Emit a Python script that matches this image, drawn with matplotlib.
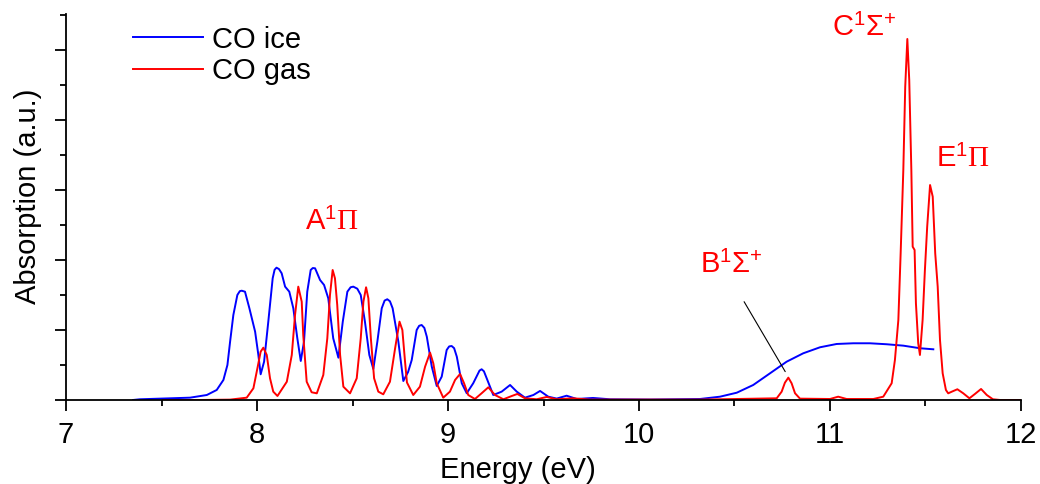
import numpy as np
import matplotlib.pyplot as plt
from matplotlib.ticker import MultipleLocator, NullFormatter

plt.rcParams['font.family'] = ['Liberation Sans', 'DejaVu Sans']
plt.rcParams['mathtext.fontset'] = 'custom'
plt.rcParams['mathtext.rm'] = 'Liberation Serif'
plt.rcParams['mathtext.sf'] = 'Liberation Sans'
plt.rcParams['mathtext.it'] = 'Liberation Serif:italic'

# CO ice spectrum (energy in eV, absorption in a.u.)
ice_e = [7.351, 7.387, 7.649, 7.737, 7.789, 7.824, 7.845, 7.859, 7.876, 7.897,
         7.910, 7.920, 7.937, 7.960, 7.990, 8.007, 8.019, 8.037, 8.059, 8.082, 8.092, 8.102,
         8.115, 8.129, 8.147, 8.169, 8.190, 8.211, 8.229, 8.246, 8.263, 8.281, 8.292, 8.304,
         8.330, 8.351, 8.373, 8.399, 8.426, 8.449, 8.473, 8.490, 8.504, 8.525, 8.543, 8.565,
         8.588, 8.609, 8.630, 8.653, 8.668, 8.682, 8.696, 8.710, 8.740, 8.766, 8.791, 8.810,
         8.836, 8.849, 8.862, 8.876, 8.889, 8.915, 8.941, 8.967, 8.993, 9.006, 9.019, 9.032,
         9.046, 9.072, 9.098, 9.132, 9.165, 9.176, 9.188, 9.206, 9.237, 9.281, 9.325, 9.360,
         9.403, 9.447, 9.482, 9.525, 9.569, 9.621, 9.674, 9.759, 9.848, 10.058, 10.319, 10.424,
         10.512, 10.598, 10.686, 10.773, 10.860, 10.948, 11.035, 11.122, 11.209, 11.297,
         11.384, 11.471, 11.541]
ice_a = [0.0, 0.01, 0.033, 0.071, 0.143, 0.286, 0.5, 0.833, 1.214, 1.5,
         1.555, 1.561, 1.547, 1.31, 0.976, 0.643, 0.367, 0.547, 1.119, 1.739, 1.86, 1.89,
         1.87, 1.81, 1.619, 1.547, 1.31, 0.881, 0.557, 0.833, 1.547, 1.857, 1.885, 1.881,
         1.714, 1.643, 1.453, 0.881, 0.604, 1.119, 1.547, 1.61, 1.619, 1.59, 1.5, 1.119,
         0.643, 0.443, 0.833, 1.31, 1.42, 1.439, 1.41, 1.31, 0.833, 0.271, 0.4, 0.571,
         1.0, 1.06, 1.071, 1.03, 0.904, 0.476, 0.2, 0.333, 0.714, 0.765, 0.771, 0.74,
         0.619, 0.239, 0.096, 0.239, 0.42, 0.439, 0.41, 0.286, 0.071, 0.119, 0.214, 0.119,
         0.033, 0.071, 0.129, 0.047, 0.02, 0.061, 0.014, 0.029, 0.01, 0.007, 0.014, 0.047,
         0.104, 0.214, 0.381, 0.547, 0.667, 0.753, 0.8, 0.81, 0.81, 0.796,
         0.776, 0.739, 0.724]

# CO gas spectrum
gas_e = [7.508, 7.702, 7.859, 7.946, 7.981, 8.002, 8.019, 8.033, 8.051, 8.068,
         8.085, 8.107, 8.156, 8.182, 8.199, 8.216, 8.234, 8.242, 8.260, 8.286,
         8.313, 8.347, 8.368, 8.382, 8.396, 8.408, 8.420, 8.435, 8.452, 8.487,
         8.522, 8.543, 8.557, 8.571, 8.583, 8.596, 8.613, 8.635, 8.661, 8.696,
         8.723, 8.746, 8.761, 8.775, 8.785, 8.818, 8.853, 8.880, 8.906, 8.923,
         8.941, 8.975, 9.010, 9.037, 9.063, 9.084, 9.106, 9.141, 9.176, 9.211,
         9.246, 9.290, 9.334, 9.363, 9.403, 9.464, 9.517, 9.569, 9.654, 9.743,
         10.319, 10.721, 10.747, 10.764, 10.782, 10.799, 10.817, 10.843, 11.000, 11.043,
         11.087, 11.227, 11.279, 11.323, 11.340, 11.358, 11.370, 11.384, 11.394, 11.405,
         11.415, 11.426, 11.433, 11.443, 11.450, 11.462, 11.471, 11.485, 11.497, 11.509,
         11.524, 11.538, 11.551, 11.564, 11.576, 11.590, 11.607, 11.619, 11.639, 11.667,
         11.698, 11.730, 11.759, 11.791, 11.821, 11.853, 11.890, 12.0]
gas_a = [0.0, 0.0, 0.005, 0.033, 0.167, 0.453, 0.69, 0.747, 0.643, 0.31,
         0.119, 0.057, 0.261, 0.643, 1.214, 1.619, 1.404, 0.928, 0.261, 0.110,
         0.095, 0.357, 0.881, 1.5, 1.857, 1.738, 1.357, 0.643, 0.19, 0.095,
         0.31, 0.881, 1.404, 1.61, 1.453, 0.881, 0.31, 0.119, 0.081, 0.261,
         0.738, 1.119, 1.0, 0.547, 0.25, 0.071, 0.19, 0.476, 0.676, 0.524,
         0.239, 0.033, 0.119, 0.286, 0.371, 0.239, 0.071, 0.014, 0.096, 0.181,
         0.071, 0.01, 0.057, 0.086, 0.024, 0.01, 0.043, 0.01, 0.024, 0.005,
         0.005, 0.024, 0.119, 0.247, 0.319, 0.239, 0.096, 0.019, 0.014, 0.047,
         0.014, 0.014, 0.047, 0.239, 0.571, 1.143, 2.095, 3.286, 4.476, 5.157,
         4.571, 3.286, 2.19, 2.143, 1.381, 0.81, 0.643, 1.143, 1.857, 2.476,
         3.071, 2.904, 2.095, 1.619, 0.857, 0.381, 0.143, 0.095, 0.12, 0.153,
         0.095, 0.024, 0.086, 0.157, 0.071, 0.01, 0.0, 0.0]

fig = plt.figure(figsize=(10.4, 4.84), dpi=100)
ax = fig.add_axes([0.0635, 0.1736, 0.9182, 0.7975])

ax.plot(ice_e, ice_a, color='#0000ff', lw=1.4, label='CO ice')
ax.plot(gas_e, gas_a, color='#ff0000', lw=1.4, label='CO gas')

ax.set_xlim(7, 12)
ax.set_ylim(0, 5.514)
ax.xaxis.set_major_locator(MultipleLocator(1))
ax.xaxis.set_minor_locator(MultipleLocator(0.5))
ax.yaxis.set_major_locator(MultipleLocator(1))
ax.yaxis.set_minor_locator(MultipleLocator(0.5))
ax.yaxis.set_major_formatter(NullFormatter())

for s in ['top', 'right']:
    ax.spines[s].set_visible(False)
for s in ['left', 'bottom']:
    ax.spines[s].set_linewidth(1.3)
ax.tick_params(which='major', direction='out', length=8, width=1.3, labelsize=21, pad=7)
ax.tick_params(which='minor', direction='out', length=4.5, width=1.3)

ax.set_xlabel('Energy (eV)', fontsize=21)
ax.xaxis.set_label_coords(0.473, -0.181)
ax.xaxis.label.set_va('center')
ax.set_ylabel('Absorption (a.u.)', fontsize=21)
ax.yaxis.set_label_coords(-0.040, 0.528)
ax.yaxis.label.set_va('center')

leg = ax.legend(loc='upper left', bbox_to_anchor=(0.058, 1.0), frameon=False,
                fontsize=21, handlelength=2.4, handletextpad=0.3,
                labelspacing=0.12, borderaxespad=0)

red = '#ff0000'
ax.text(8.393, 2.54, r'$\mathsf{A}^{\mathsf{1}}\Pi$', color=red, fontsize=21,
        ha='center', va='center')
ax.text(11.178, 5.31, r'$\mathsf{C}^{\mathsf{1}}\mathsf{\Sigma}^{\mathsf{+}}$', color=red,
        fontsize=21, ha='center', va='center')
ax.text(11.694, 3.44, r'$\mathsf{E}^{\mathsf{1}}\Pi$', color=red, fontsize=21,
        ha='center', va='center')
ax.text(10.482, 1.93, r'$\mathsf{B}^{\mathsf{1}}\mathsf{\Sigma}^{\mathsf{+}}$', color=red,
        fontsize=21, ha='center', va='center')
ax.annotate('', xy=(10.773, 0.371), xytext=(10.543, 1.438),
            arrowprops=dict(arrowstyle='-', color='black', lw=0.8))

plt.savefig('out.png', dpi=100)
